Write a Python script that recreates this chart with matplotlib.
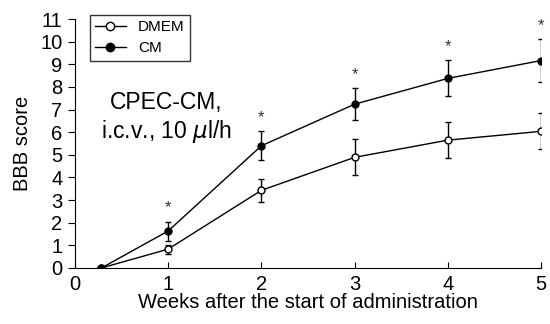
import matplotlib
matplotlib.use("Agg")
import matplotlib.pyplot as plt
from matplotlib.lines import Line2D

plt.rcParams['font.family'] = ['Liberation Sans', 'DejaVu Sans']

weeks = [2 / 7, 1, 2, 3, 4, 5]
dmem = [0.0, 0.83, 3.43, 4.89, 5.65, 6.04]
dmem_err = [0.0, 0.2, 0.5, 0.8, 0.78, 0.8]
cm = [0.0, 1.63, 5.40, 7.24, 8.38, 9.17]
cm_err = [0.0, 0.42, 0.65, 0.7, 0.8, 0.95]
signif = [False, True, True, True, True, True]

fig = plt.figure(figsize=(5.5, 3.24), dpi=100)
ax = fig.add_axes([0.136, 0.173, 0.848, 0.768])

ax.errorbar(weeks, dmem, yerr=dmem_err, color='black', marker='o', mfc='white',
            mec='black', ms=5, lw=1, elinewidth=1, capsize=2.5, capthick=1,
            zorder=3)
ax.errorbar(weeks, cm, yerr=cm_err, color='black', marker='o', mfc='black',
            mec='black', ms=5, lw=1, elinewidth=1, capsize=2.5, capthick=1,
            zorder=4)

for x, y, e, s in zip(weeks, cm, cm_err, signif):
    if s:
        ax.text(x, y + e + 0.6, '*', ha='center', va='center', fontsize=12,
                color='#333333')

ax.text(0.98, 6.65, 'CPEC-CM,\ni.c.v., 10 $\\mu$l/h', ha='center', va='center',
        fontsize=16.5, linespacing=1.2)

ax.set_xlim(0, 5)
ax.set_ylim(0, 11)
ax.set_xticks(range(0, 6))
ax.set_yticks(range(0, 12))
ax.tick_params(axis='x', direction='in', length=4, labelsize=14.5, pad=5)
ax.tick_params(axis='y', direction='out', length=5, labelsize=14.5, pad=4)
ax.spines['top'].set_visible(False)
ax.spines['right'].set_visible(False)
ax.set_xlabel('Weeks after the start of administration', fontsize=14.5, labelpad=-1)
ax.set_ylabel('BBB score', fontsize=14.5, labelpad=6)

handles = [
    Line2D([], [], color='black', lw=1, marker='o', mfc='white', mec='black', ms=6),
    Line2D([], [], color='black', lw=1, marker='o', mfc='black', mec='black', ms=6),
]
leg = ax.legend(handles, ['DMEM', 'CM'], loc='upper left',
                bbox_to_anchor=(0.032, 1.016), fontsize=11,
                frameon=True, fancybox=False, edgecolor='black',
                handlelength=2.0, borderpad=0.35, labelspacing=0.45,
                handletextpad=0.8, borderaxespad=0)
leg.get_frame().set_linewidth(1)

fig.savefig('out.png', dpi=100)
